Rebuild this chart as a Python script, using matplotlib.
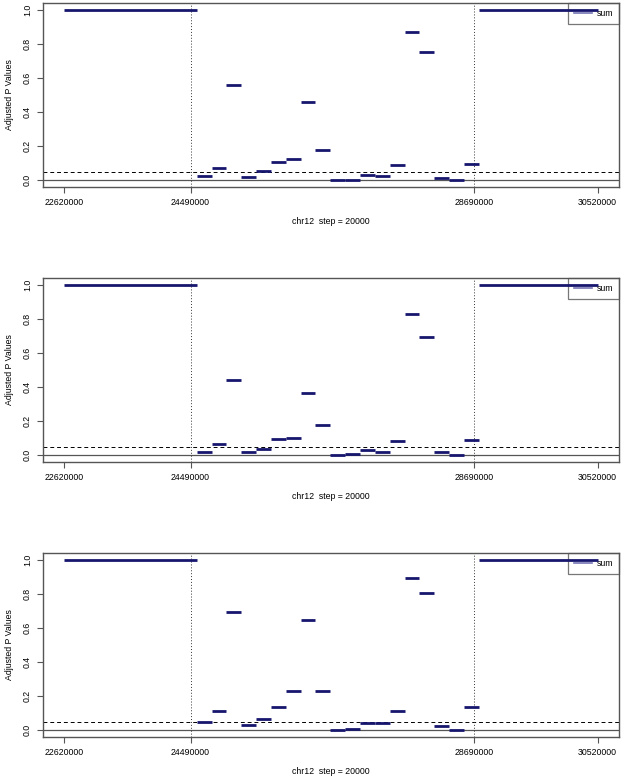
import matplotlib
matplotlib.use("Agg")
import matplotlib.pyplot as plt
from matplotlib.lines import Line2D

plt.rcParams["font.family"] = ["Liberation Sans", "DejaVu Sans"]

# window edges along chr12 (bp)
edges = [22620000, 24580000, 24800000, 25020000, 25240000, 25460000, 25680000,
         25900000, 26120000, 26340000, 26560000, 26780000, 27000000, 27220000,
         27440000, 27660000, 27880000, 28100000, 28320000, 28540000, 28760000,
         30520000]

# adjusted p values per window, one list per panel
pvals_1 = [1.0, 0.025, 0.070, 0.560, 0.020, 0.053, 0.108, 0.123, 0.456, 0.176,
           0.000, 0.004, 0.031, 0.022, 0.090, 0.871, 0.750, 0.014, 0.000, 0.094, 1.0]
pvals_2 = [1.0, 0.020, 0.068, 0.440, 0.018, 0.039, 0.096, 0.098, 0.365, 0.178,
           0.002, 0.006, 0.029, 0.018, 0.084, 0.828, 0.691, 0.016, 0.002, 0.088, 1.0]
pvals_3 = [1.0, 0.047, 0.114, 0.695, 0.031, 0.063, 0.135, 0.229, 0.648, 0.229,
           0.000, 0.006, 0.045, 0.041, 0.114, 0.894, 0.804, 0.022, 0.000, 0.135, 1.0]

xticks = [22620000, 24490000, 28690000, 30520000]
region = [24490000, 28690000]
yticks = [0.0, 0.2, 0.4, 0.6, 0.8, 1.0]
threshold = 0.05

seg_color = "#16166e"
frame_color = "#555555"

fig = plt.figure(figsize=(6.25, 7.81), dpi=100)

for k, pvals in enumerate([pvals_1, pvals_2, pvals_3]):
    top = 3 + 275 * k
    ax = fig.add_axes([43 / 625, 1 - (top + 184) / 781, 576 / 625, 184 / 781])

    ax.hlines(pvals, edges[:-1], edges[1:], color=seg_color, lw=2, zorder=5)
    ax.axhline(0, color=frame_color, lw=0.9)
    ax.axhline(threshold, color="black", lw=0.7, ls=(0, (4, 3)))
    for r in region:
        ax.axvline(r, color="#333333", lw=0.7, ls=(0, (1, 2)))

    span = edges[-1] - edges[0]
    ax.set_xlim(edges[0] - 0.04 * span, edges[-1] + 0.04 * span)
    ax.set_ylim(-0.04, 1.04)

    ax.set_xticks(xticks)
    ax.set_xticklabels([str(t) for t in xticks])
    ax.set_yticks(yticks)
    ax.set_yticklabels([f"{t:.1f}" for t in yticks], rotation=90, va="center")
    ax.tick_params(labelsize=6.3, length=4, width=0.8, color=frame_color, pad=4)

    for s in ax.spines.values():
        s.set_color(frame_color)
        s.set_linewidth(1.0)

    ax.set_xlabel("chr12  step = 20000", fontsize=6.3)
    ax.xaxis.set_label_coords(0.5, -0.165)
    ax.set_ylabel("Adjusted P Values", fontsize=6.3)
    ax.yaxis.set_label_coords(-0.05, 0.5)

    handle = Line2D([], [], color="#7474b4", lw=1.2)
    leg = ax.legend([handle], ["sum"], loc="upper right", fontsize=6.3,
                    borderaxespad=0, fancybox=False,
                    handlelength=2.1, handletextpad=0.5, borderpad=0.7)
    leg.get_frame().set_facecolor("none")
    leg.get_frame().set_edgecolor(frame_color)
    leg.get_frame().set_linewidth(0.9)
    leg.set_zorder(4)

plt.savefig("out.png", dpi=100)
